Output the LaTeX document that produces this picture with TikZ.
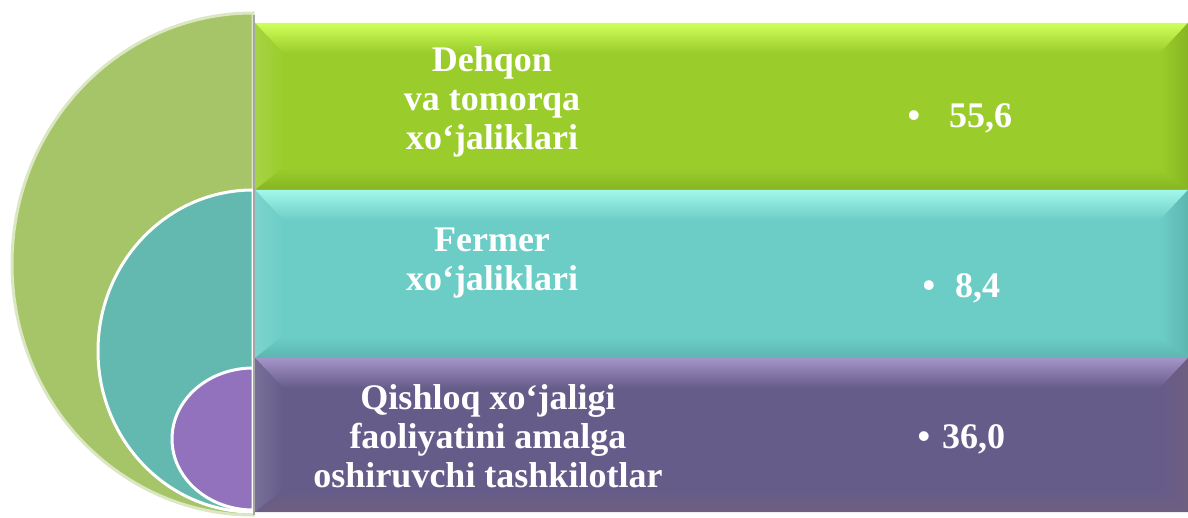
\documentclass[tikz,border=0pt]{standalone}
\usepackage{fontspec}
\setmainfont{Liberation Serif}

\definecolor{gbar}{HTML}{9ACD2B}
\definecolor{gbarlight}{HTML}{CFFF5A}
\definecolor{gbardark}{HTML}{86B522}
\definecolor{gdisk}{HTML}{A6C468}
\definecolor{tbar}{HTML}{6CCDC7}
\definecolor{tbarlight}{HTML}{A2F7EA}
\definecolor{tbardark}{HTML}{5CB6B0}
\definecolor{tdisk}{HTML}{63B9AF}
\definecolor{pbar}{HTML}{665C8A}
\definecolor{pbarlight}{HTML}{A395C8}
\definecolor{pbardark}{HTML}{6E5F80}
\definecolor{pdisk}{HTML}{9272BC}

\tikzset{%
	barlabel/.style = {text=white, align=center,
		font=\bfseries\fontsize{36}{39}\selectfont}, % Label
	barvalue/.style = {text=white, anchor=base west,
		font=\bfseries\fontsize{36}{39}\selectfont}, % Value
	halfdisk/.style = {draw=white, line width=3pt} % Half circle
}

% top, bottom, base, light, dark
\newcommand{\bevelbar}[5]{%
	\fill[#3] (255,#1) rectangle (1188,#2);
	\shade[top color=#4, bottom color=#3] (255,#1) -- (1188,#1) -- (1160,#1+30) -- (283,#1+30) -- cycle;
	\shade[left color=#3!88!white, right color=#3] (255,#1) -- (283,#1+30) -- (283,#2-22) -- (255,#2) -- cycle;
	\shade[left color=#3, right color=#5] (1188,#1) -- (1188,#2) -- (1160,#2-22) -- (1160,#1+30) -- cycle;
	\shade[top color=#3, bottom color=#5] (255,#2) -- (283,#2-22) -- (1160,#2-22) -- (1188,#2) -- cycle;
}

\begin{document}
\begin{tikzpicture}[x=1pt,y=-1pt]
			\useasboundingbox (0,0) rectangle (1188,518);
			
			\filldraw[halfdisk, fill=gdisk, draw=gdisk!40!white] (253,13) arc[start angle=270, end angle=90, x radius=241, y radius=251] -- cycle;
			\filldraw[halfdisk, fill=tdisk] (253,190) arc[start angle=270, end angle=90, x radius=155, y radius=161] -- cycle;
			\filldraw[halfdisk, fill=pdisk] (253,368) arc[start angle=270, end angle=90, x radius=81, y radius=71] -- cycle;
			\draw[gray!70, line width=1.5pt] (254,15) -- (254,515);
			
			\bevelbar{23}{190}{gbar}{gbarlight}{gbardark}
			\bevelbar{190}{358}{tbar}{tbarlight}{tbardark}
			\bevelbar{358}{512}{pbar}{pbarlight}{pbardark}
			
			\node[barlabel] (dehqon) at (492,102) {Dehqon\\va tomorqa\\xo‘jaliklari};
			\node[barlabel] (fermer) at (492,263) {Fermer\\xo‘jaliklari};
			\node[barlabel] (tashkilot) at (488,436) {Qishloq xo‘jaligi\\faoliyatini amalga\\oshiruvchi tashkilotlar};
			
			\node[barvalue] (dehqonval) at (904,128) {•\hspace{29pt}55,6};
			\node[barvalue] (fermerval) at (919,298) {•\hspace{20pt}8,4};
			\node[barvalue] (tashkilotval) at (914,448) {•\hspace{12pt}36,0};
		\end{tikzpicture}
\end{document}
